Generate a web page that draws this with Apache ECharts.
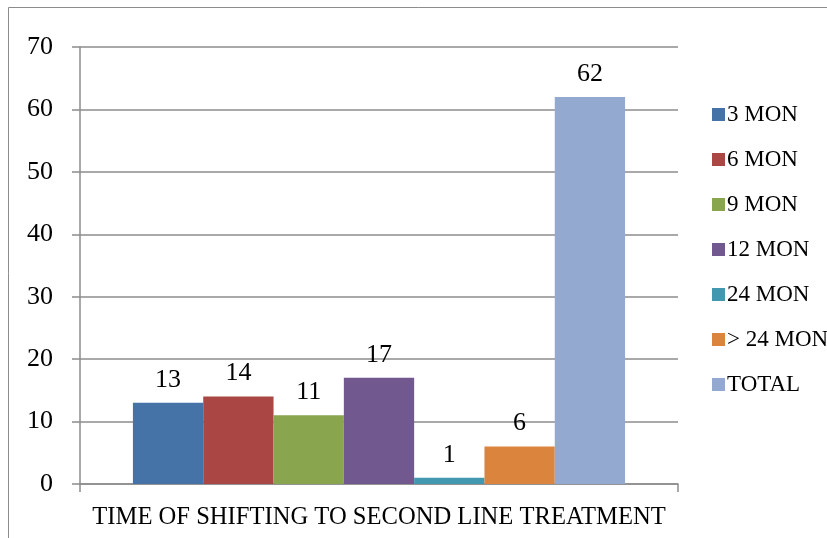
<!DOCTYPE html>
<html>
<head>
<meta charset="utf-8">
<script src="https://cdn.jsdelivr.net/npm/echarts@6/dist/echarts.min.js"></script>
<style>
  html, body { margin: 0; padding: 0; background: #fff; }
  #chart { width: 827px; height: 538px; }
</style>
</head>
<body>
<div id="chart"></div>
<script>
// Single category on the x axis; each duration group is its own series
const categories = ['TIME OF SHIFTING TO SECOND LINE TREATMENT'];
const seriesNames = ['3 MON', '6 MON', '9 MON', '12 MON', '24 MON', '> 24 MON', 'TOTAL'];
const seriesValues = [13, 14, 11, 17, 1, 6, 62];
const seriesColors = ['#4572A7', '#AA4643', '#89A54E', '#71588F', '#4198AF', '#DB843D', '#93A9CF'];
const yTicks = { min: 0, max: 70, interval: 10 };

const FONT = 'Liberation Serif';

const chart = echarts.init(document.getElementById('chart'), null, { renderer: 'canvas' });

const series = seriesNames.map((name, i) => ({
  name: name,
  type: 'bar',
  data: [seriesValues[i]],
  barGap: '0%',
  barCategoryGap: '17.7%',
  itemStyle: { color: seriesColors[i] },
  label: {
    show: true,
    position: 'top',
    distance: 10,
    color: '#000',
    fontFamily: FONT,
    fontSize: 26
  }
}));

chart.setOption({
  animation: false,
  backgroundColor: '#fff',
  graphic: [{
    type: 'rect',
    shape: { x: 8.5, y: 7.5, width: 900, height: 700 },
    style: { fill: 'none', stroke: '#8c8c8c', lineWidth: 1 },
    z: -1
  }],
  grid: { left: 80, right: 149, top: 47, bottom: 54, containLabel: false },
  legend: {
    orient: 'vertical',
    left: 707,
    top: 98,
    itemWidth: 13,
    itemHeight: 13,
    itemGap: 22,
    icon: 'rect',
    textStyle: { fontFamily: FONT, fontSize: 23, lineHeight: 23, color: '#000', padding: [0, 0, 0, -3] },
    data: seriesNames
  },
  xAxis: {
    type: 'category',
    data: categories,
    axisLine: { lineStyle: { color: '#8c8c8c', width: 1.5 } },
    axisTick: { show: true, alignWithLabel: false, length: 8, lineStyle: { color: '#8c8c8c', width: 1.5 } },
    axisLabel: { margin: 21, color: '#000', fontFamily: FONT, fontSize: 24.6 }
  },
  yAxis: {
    type: 'value',
    min: yTicks.min,
    max: yTicks.max,
    interval: yTicks.interval,
    axisLine: { show: true, lineStyle: { color: '#8c8c8c', width: 1.5 } },
    axisTick: { show: true, inside: false, length: 8, lineStyle: { color: '#8c8c8c', width: 1.5 } },
    splitLine: { show: true, lineStyle: { color: '#8c8c8c', width: 1.5 } },
    axisLabel: { margin: 27, color: '#000', fontFamily: FONT, fontSize: 26 }
  },
  series: series
});
</script>
</body>
</html>
